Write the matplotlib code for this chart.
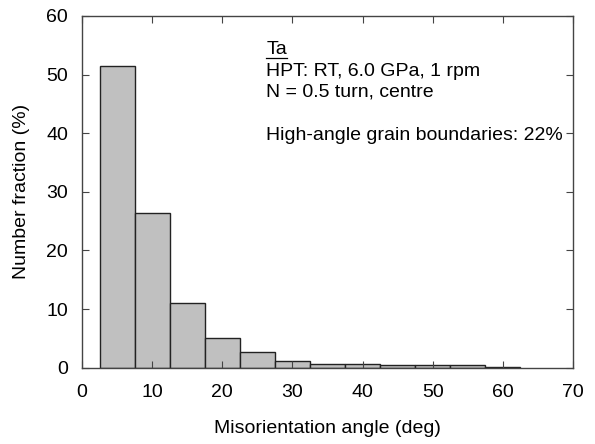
import matplotlib
matplotlib.use("Agg")
import matplotlib.pyplot as plt
from matplotlib.lines import Line2D

plt.rcParams['font.family'] = ['Liberation Sans', 'DejaVu Sans']

# bin edges (deg) and number fraction (%)
bin_left = [2.5, 7.5, 12.5, 17.5, 22.5, 27.5, 32.5, 37.5, 42.5, 47.5, 52.5, 57.5]
fraction = [51.4, 26.4, 11.1, 5.05, 2.6, 1.15, 0.63, 0.55, 0.42, 0.42, 0.4, 0.12]
bin_width = 5

fig = plt.figure(figsize=(5.95, 4.44), dpi=100)
ax = fig.add_axes([0.138, 0.172, 0.825, 0.792])

ax.bar(bin_left, fraction, width=bin_width, align='edge',
       color='#c0c0c0', edgecolor='#222222', linewidth=1.0)

ax.set_xlim(0, 70)
ax.set_ylim(0, 60)
ax.set_xticks(range(0, 71, 10))
ax.set_yticks(range(0, 61, 10))
ax.tick_params(direction='in', top=True, right=True, length=5,
               width=0.8, color='#444444', labelsize=14)
ax.tick_params(axis='x', pad=12)
ax.tick_params(axis='y', pad=10)
for s in ax.spines.values():
    s.set_color('#444444')
    s.set_linewidth(1.0)

ax.set_xlabel('Misorientation angle (deg)', fontsize=14)
ax.set_ylabel('Number fraction (%)', fontsize=14)
ax.xaxis.set_label_coords(0.5, -0.150)
ax.yaxis.set_label_coords(-0.106, 0.5)

lines = ['Ta', 'HPT: RT, 6.0 GPa, 1 rpm', 'N = 0.5 turn, centre', '',
         'High-angle grain boundaries: 22%']
y0 = 0.891
step = 0.0606
texts = []
for i, s in enumerate(lines):
    if s:
        texts.append(ax.text(0.375, y0 - i * step, s, transform=ax.transAxes,
                             fontsize=14, va='baseline', ha='left'))

# underline "Ta"
fig.canvas.draw()
bb = texts[0].get_window_extent()
inv = fig.transFigure.inverted()
(x0, yb), (x1, _) = inv.transform([(bb.x0, bb.y0), (bb.x1, bb.y0)])
fig.add_artist(Line2D([x0, x1], [yb + 0.001, yb + 0.001], color='black',
                      linewidth=0.9, transform=fig.transFigure))

fig.savefig('out.png', dpi=100)
